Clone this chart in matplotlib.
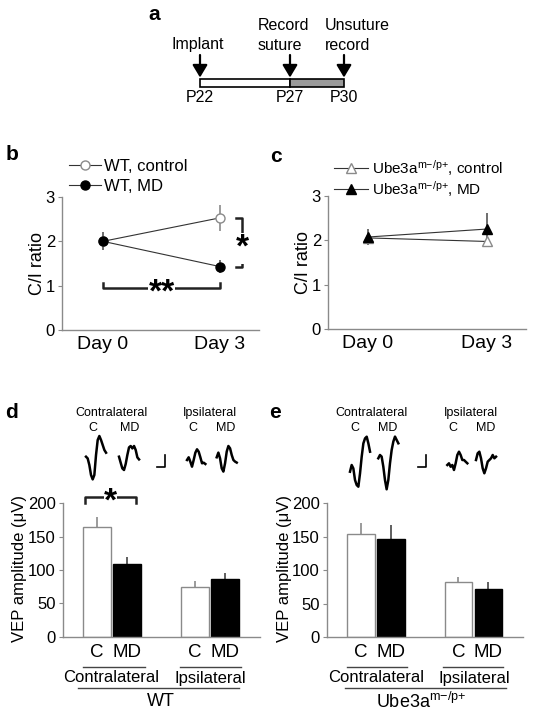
import numpy as np
import matplotlib
matplotlib.use('Agg')
import matplotlib.pyplot as plt
from matplotlib.patches import Rectangle
from matplotlib.lines import Line2D

plt.rcParams['font.family'] = ['Liberation Sans', 'DejaVu Sans']
plt.rcParams['mathtext.fontset'] = 'custom'
plt.rcParams['mathtext.rm'] = 'Liberation Sans'
plt.rcParams['mathtext.it'] = 'Liberation Sans:italic'

# ---------------- data ----------------
timeline_days = [22, 27, 30]
timeline_labels = ['P22', 'P27', 'P30']
timeline_events = [['Implant'], ['Record', 'suture'], ['Unsuture', 'record']]

days = ['Day 0', 'Day 3']
wt_control = [2.0, 2.53]
wt_control_err = [0.12, 0.29]
wt_md = [2.0, 1.43]
wt_md_err = [0.2, 0.14]
ube_control = [2.05, 1.97]
ube_control_err = [0.1, 0.09]
ube_md = [2.07, 2.25]
ube_md_err = [0.18, 0.35]

bar_conditions = ['C', 'MD', 'C', 'MD']
bar_groups = ['Contralateral', 'Ipsilateral']
wt_vep = [164, 109, 75, 86]
wt_vep_err = [16, 10, 8.5, 10]
ube_vep = [154, 147, 82, 72]
ube_vep_err = [17, 21, 8, 11]

# example VEP traces (amplitude, arbitrary units, uniform sampling)
wt_trace_contra_c = [0, -1.7, -8.3, -18.3, -22.7, -18.3, 1.7, 16.7, 20.7, 16.7, 11.7, 6.7, 4.0]
wt_trace_contra_md = [0, -6, -11.7, -13.3, -7.3, 1.7, 9.3, 10.7, 8.3, 10.7, 6.7, -0.7, -2.7]
wt_trace_ipsi_c = [0, 2.7, -1.7, -6.7, 0, 7.3, 10.7, 8.3, 2.7, -3.3, -2.7, -4.0]
wt_trace_ipsi_md = [0, 4.7, -1, -11, -14.3, -6, 5.7, 11.3, 9, 2.3, -2.7, -4.3, -5.3]
ube_trace_contra_c = [0, 6.7, 3.3, -8.3, -13.3, -15, -1.7, 15, 28.3, 33.3, 35, 28.3, 20]
ube_trace_contra_md = [0, 3.3, 1.7, -8.3, -21.7, -31, -21.7, -5, 8.3, 16.7, 21.7, 18.3, 15]
ube_trace_ipsi_c = [0, 1.7, -1.7, 0, -5, 1.7, 10, 13.3, 10, 5, 5, 3.3, 1.7]
ube_trace_ipsi_md = [0, 6.7, 8.3, 1.7, -8.3, -13.3, -8.3, -1.7, 0, 1.7, 5, 1.7, 3.3]

# ---------------- layout ----------------
W, H = 533, 716
GRAY = '#8a8a8a'
DARK = '#222222'
fig = plt.figure(figsize=(W / 100, H / 100), dpi=100)


def box(l, t, r, b):
    return [l / W, 1 - b / H, (r - l) / W, (b - t) / H]


ov = fig.add_axes([0, 0, 1, 1])
ov.set_xlim(0, W)
ov.set_ylim(H, 0)
ov.axis('off')


def style(ax, ylim, yticks, xfs=14, xpad=4):
    for s in ['top', 'right']:
        ax.spines[s].set_visible(False)
    for s in ['left', 'bottom']:
        ax.spines[s].set_color(GRAY)
        ax.spines[s].set_linewidth(1.0)
    ax.set_ylim(*ylim)
    ax.set_yticks(yticks)
    ax.tick_params(axis='y', length=3, width=0.8, color=GRAY, labelsize=12, pad=2)
    ax.tick_params(axis='x', length=0, labelsize=xfs, pad=xpad)
    ax.patch.set_alpha(0)


# ---------------- panel a ----------------
ax_a = fig.add_axes(box(200, 0, 344, 105))
ax_a.set_xlim(22, 30)
ax_a.set_ylim(105, 0)
ax_a.axis('off')
seg_colors = ['white', '#9a9a9a']
for (d0, d1), fc in zip(zip(timeline_days[:-1], timeline_days[1:]), seg_colors):
    ax_a.add_patch(Rectangle((d0, 79), d1 - d0, 8, fc=fc, ec='k', lw=1.2, clip_on=False))
for d, lab in zip(timeline_days, timeline_labels):
    ax_a.annotate('', xy=(d, 77.5), xytext=(d, 55),
                  arrowprops=dict(arrowstyle='-|>,head_length=0.75,head_width=0.45',
                                  color='k', lw=1.6, shrinkA=0, shrinkB=0,
                                  mutation_scale=10), annotation_clip=False)
    ax_a.text(d, 98, lab, ha='center', va='center', fontsize=11.5, clip_on=False)
text_left = [20.39, 25.22, 28.94]
for xl, lines in zip(text_left, timeline_events):
    for k, line in enumerate(reversed(lines)):
        ax_a.text(xl, 45 - 19 * k, line, ha='left', va='center', fontsize=11.5, clip_on=False)

# ---------------- panel b ----------------
ax_b = fig.add_axes(box(62, 197, 259, 330))
x = np.arange(len(days))
ax_b.plot(x, wt_control, color='#333', lw=0.8, zorder=2)
ax_b.plot(x, wt_md, color='#333', lw=0.8, zorder=2)
ax_b.errorbar(x, wt_control, yerr=wt_control_err, fmt='none', ecolor=GRAY, elinewidth=1.2, capsize=0, zorder=3)
ax_b.errorbar(x, wt_md, yerr=wt_md_err, fmt='none', ecolor='#555', elinewidth=1.2, capsize=0, zorder=3)
ax_b.plot(x, wt_control, 'o', mfc='white', mec=GRAY, mew=1, ms=6.5, zorder=4)
ax_b.plot(x, wt_md, 'o', mfc='k', mec='k', ms=6.5, zorder=5)
ax_b.set_xlim(-0.35, 1.333)
style(ax_b, (0, 3), [0, 1, 2, 3])
ax_b.set_xticks(x)
ax_b.set_xticklabels(days)
ax_b.plot([0, 0, 1, 1], [1.07, 0.95, 0.95, 1.07], color=DARK, lw=1.8, clip_on=False, zorder=3)
ax_b.text(0.5, 0.84, '**', ha='center', va='center', fontsize=24, fontweight='bold',
          bbox=dict(fc='white', ec='none', pad=0), zorder=4)
ax_b.plot([1.14, 1.19, 1.19, 1.14], [wt_control[1], wt_control[1], wt_md[1], wt_md[1]],
          color=DARK, lw=1.8, clip_on=False, zorder=3)
ax_b.text(1.19, 1.84, '*', ha='center', va='center', fontsize=24, fontweight='bold',
          bbox=dict(fc='white', ec='none', pad=0), zorder=4, clip_on=False)
ax_b.set_ylabel('C/I ratio', fontsize=13, labelpad=0)
hb = [Line2D([], [], color='#333', lw=0.8, marker='o', mfc='white', mec=GRAY, ms=6.5),
      Line2D([], [], color='#333', lw=0.8, marker='o', mfc='k', mec='k', ms=6.5)]
ax_b.legend(hb, ['WT, control', 'WT, MD'], loc='upper left', bbox_to_anchor=(69 / W, 1 - 159 / H),
            bbox_transform=fig.transFigure, frameon=False, fontsize=12, handlelength=1.9,
            handletextpad=0.2, labelspacing=0.3, borderpad=0, borderaxespad=0, numpoints=1)

# ---------------- panel c ----------------
ax_c = fig.add_axes(box(328, 195.7, 526, 329))
ax_c.plot(x, ube_control, color='#333', lw=0.8, zorder=2)
ax_c.plot(x, ube_md, color='#333', lw=0.8, zorder=2)
ax_c.errorbar(x, ube_control, yerr=ube_control_err, fmt='none', ecolor=GRAY, elinewidth=1.2, capsize=0, zorder=3)
ax_c.errorbar(x, ube_md, yerr=ube_md_err, fmt='none', ecolor='#555', elinewidth=1.2, capsize=0, zorder=3)
ax_c.plot(x, ube_control, '^', mfc='white', mec=GRAY, mew=1, ms=7, zorder=4)
ax_c.plot(x, ube_md, '^', mfc='k', mec='k', ms=7, zorder=5)
ax_c.set_xlim(-0.336, 1.328)
style(ax_c, (0, 3), [0, 1, 2, 3])
ax_c.set_xticks(x)
ax_c.set_xticklabels(days)
ax_c.set_ylabel('C/I ratio', fontsize=13, labelpad=0)
UBE = 'Ube3a$^{\\mathregular{m{\u2212}/p{+}}}$'
hc = [Line2D([], [], color='#333', lw=0.8, marker='^', mfc='white', mec=GRAY, ms=7),
      Line2D([], [], color='#333', lw=0.8, marker='^', mfc='k', mec='k', ms=7)]
ax_c.legend(hc, [UBE + ', control', UBE + ', MD'], loc='upper left', bbox_to_anchor=(334 / W, 1 - 158 / H),
            bbox_transform=fig.transFigure, frameon=False, fontsize=11, handlelength=2.2,
            handletextpad=0.3, labelspacing=0.05, borderpad=0, borderaxespad=0, numpoints=1)

# ---------------- panels d, e ----------------
pos = [0, 1, 3.25, 4.25]
bar_fc = ['white', 'k', 'white', 'k']
bar_ec = [GRAY, 'k', GRAY, 'k']
err_c = [GRAY, '#444', GRAY, '#444']


def bars(ax, vals, errs):
    ax.bar(pos, vals, width=0.93, color=bar_fc, edgecolor=bar_ec, lw=1, zorder=2)
    for p, v, e, c in zip(pos, vals, errs, err_c):
        ax.errorbar([p], [v], yerr=[[0], [e]], fmt='none', ecolor=c, elinewidth=1.2, capsize=0, zorder=1)
    style(ax, (0, 200), [0, 50, 100, 150, 200], xfs=13.5, xpad=5)
    ax.set_xticks(pos)
    ax.set_xticklabels(bar_conditions)


ax_d = fig.add_axes(box(62.5, 503.3, 260, 636.7))
bars(ax_d, wt_vep, wt_vep_err)
ax_d.set_xlim(-1.15, 5.43)
ax_d.plot([-0.4, -0.4, 1.3, 1.3], [201, 209.5, 209.5, 201], color=DARK, lw=1.8, clip_on=False, zorder=3)
ax_d.text(0.45, 202, '*', ha='center', va='center', fontsize=24, fontweight='bold',
          bbox=dict(fc='white', ec='none', pad=0), clip_on=False, zorder=4)

ax_e = fig.add_axes(box(326.7, 503.3, 523, 637.3))
bars(ax_e, ube_vep, ube_vep_err)
ax_e.set_xlim(-1.14, 5.4)

# y labels
for xc in (20, 285):
    ov.text(xc, 568, 'VEP amplitude (\u03bcV)', rotation=90, ha='center', va='center', fontsize=12)

# group labels under bars
for (c0, c1), (i0, i1), (l0, l1), cx, ix, gx, gname in [
        ((83, 145), (180, 241), (78, 239), 111, 210, 161, 'WT'),
        ((347, 407), (443, 503), (345, 506), 376, 474, 421, UBE)]:
    ov.plot([c0, c1], [666.5, 666.5], color='#444', lw=1)
    ov.plot([i0, i1], [666.5, 666.5], color='#444', lw=1)
    ov.plot([l0, l1], [688, 688], color='#444', lw=1)
    ov.text(cx, 678, bar_groups[0], ha='center', va='center', fontsize=12)
    ov.text(ix, 678, bar_groups[1], ha='center', va='center', fontsize=12)
    ov.text(gx, 702, gname, ha='center', va='center', fontsize=13)

# traces
dt = 1.67
for amp, x0, y0 in [(wt_trace_contra_c, 86, 456.7), (wt_trace_contra_md, 119, 456.7),
                    (wt_trace_ipsi_c, 187, 460), (wt_trace_ipsi_md, 216.7, 457.3),
                    (ube_trace_contra_c, 350, 471.7), (ube_trace_contra_md, 378.3, 458.3),
                    (ube_trace_ipsi_c, 447.3, 465), (ube_trace_ipsi_md, 476, 460)]:
    a = np.asarray(amp)
    ov.plot(x0 + np.arange(len(a)) * dt, y0 - a, color='k', lw=1.8, solid_joinstyle='round')

# scale bars
for sx in (157, 418):
    ov.plot([sx, sx + 8, sx + 8], [467, 467, 455], color='k', lw=1.2)

# trace labels
for cx, c1, m1, ix, c2, m2 in [(111, 93, 130, 210, 193, 226), (371, 355, 388, 471, 453, 486)]:
    ov.text(cx, 413, bar_groups[0], ha='center', va='center', fontsize=9)
    ov.text(ix, 413, bar_groups[1], ha='center', va='center', fontsize=9)
    for xx, t in [(c1, 'C'), (m1, 'MD'), (c2, 'C'), (m2, 'MD')]:
        ov.text(xx, 428, t, ha='center', va='center', fontsize=9)

# panel letters
for (lx, ly), t in zip([(154, 14), (12, 155), (276, 157), (11, 412), (275, 412)], 'abcde'):
    ov.text(lx, ly, t, ha='center', va='center', fontsize=15, fontweight='bold')

fig.savefig('out.png', dpi=100)
